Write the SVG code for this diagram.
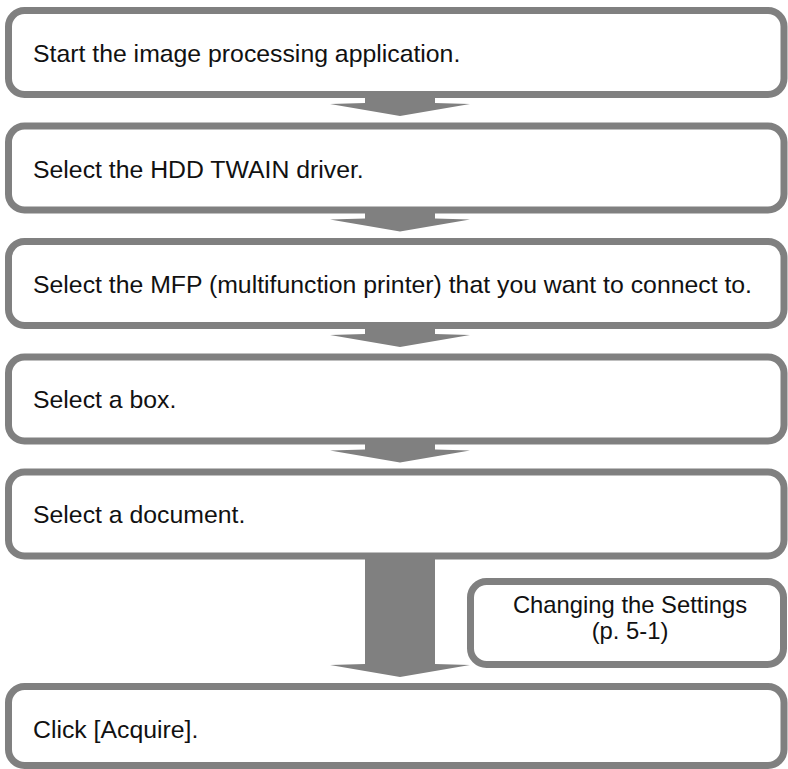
<svg xmlns="http://www.w3.org/2000/svg" width="788" height="769" viewBox="0 0 788 769">
<style>
.box{fill:#fff;stroke:#808080;stroke-width:7}
.arr{fill:#808080;stroke:none}
.t{font-family:"Liberation Sans",Arial,Helvetica,sans-serif;font-size:24.8px;fill:#111}
.c{text-anchor:middle;font-size:23.8px}
</style>
<rect width="788" height="769" fill="#fff"/>
<g id="connectors">
<polygon class="arr" points="365,94 435,94 435,103 470,104 400,116 330,104 365,103"/>
<polygon class="arr" points="365,209.5 435,209.5 435,218.5 470,219.5 400,231.5 330,219.5 365,218.5"/>
<polygon class="arr" points="365,325 435,325 435,334 470,335 400,347 330,335 365,334"/>
<polygon class="arr" points="365,440.5 435,440.5 435,449.5 470,450.5 400,462.5 330,450.5 365,449.5"/>
<polygon class="arr" points="365,556 435,556 435,664 470,665 400,677 330,665 365,664"/>
</g>
<g id="step1"><rect class="box" x="8.5" y="10.5" width="775.5" height="84" rx="16"/><text class="t" x="33" y="62">Start the image processing application.</text></g>
<g id="step2"><rect class="box" x="8.5" y="126" width="775.5" height="84" rx="16"/><text class="t" x="33" y="178">Select the HDD TWAIN driver.</text></g>
<g id="step3"><rect class="box" x="8.5" y="241.5" width="775.5" height="84" rx="16"/><text class="t" x="33" y="293">Select the MFP (multifunction printer) that you want to connect to.</text></g>
<g id="step4"><rect class="box" x="8.5" y="357" width="775.5" height="84" rx="16"/><text class="t" x="33" y="408">Select a box.</text></g>
<g id="step5"><rect class="box" x="8.5" y="472" width="775.5" height="84" rx="16"/><text class="t" x="33" y="523">Select a document.</text></g>
<g id="settings"><rect class="box" x="470.5" y="581.5" width="313" height="83" rx="16"/><text class="t c" x="630" y="613">Changing the Settings</text><text class="t c" x="630" y="639">(p. 5-1)</text></g>
<g id="step6"><rect class="box" x="8.5" y="686.5" width="775.5" height="79" rx="16"/><text class="t" x="33" y="738">Click [Acquire].</text></g>
</svg>
